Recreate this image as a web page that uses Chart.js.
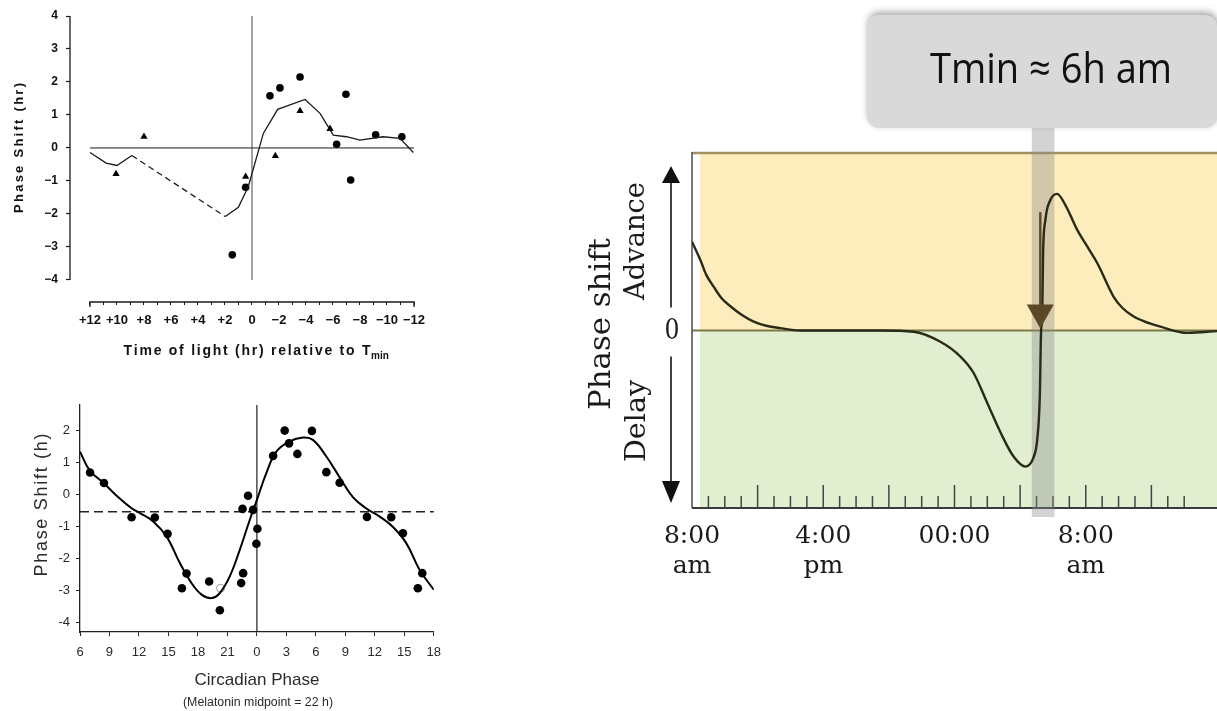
<!DOCTYPE html>
<html>
<head>
<meta charset="utf-8">
<script src="https://cdn.jsdelivr.net/npm/chart.js@4.4.1/dist/chart.umd.min.js"></script>
<style>
  html, body { margin: 0; padding: 0; background: #fff; }
  #page { position: relative; width: 1217px; height: 711px; overflow: hidden; background: #fff; }
  canvas { position: absolute; }
</style>
</head>
<body>
<div id="page">
  <canvas id="prcLight" width="440" height="365" style="left:0;top:0"></canvas>
  <canvas id="prcMelatonin" width="450" height="321" style="left:0;top:390px"></canvas>
  <canvas id="prcSchema" width="657" height="711" style="left:560px;top:0"></canvas>
</div>
<script>
// ---- light PRC (hours of light relative to Tmin, + = before Tmin) ----
const lightCurveHours = [12, 10.8, 10.0, 8.9, 1.98, 1.01, 0.27, -0.84, -1.9, -3.93, -5.04, -6.02, -7.0, -8.0, -9.7, -10.96, -11.95];
const lightCurveShift = [-0.14, -0.46, -0.53, -0.23, -2.08, -1.80, -1.17, 0.44, 1.17, 1.47, 1.05, 0.39, 0.34, 0.24, 0.34, 0.29, -0.14];
const lightTriHours = [10.07, 8.0, 0.47, -1.73, -3.56, -5.78];
const lightTriShift = [-0.79, 0.34, -0.87, -0.24, 1.12, 0.58];
const lightDotHours = [1.46, 0.47, -1.33, -2.07, -3.56, -6.27, -6.96, -7.31, -9.16, -11.1];
const lightDotShift = [-3.24, -1.19, 1.58, 1.82, 2.15, 0.11, 1.63, -0.97, 0.40, 0.34];
const lightXTicks = [-12, -11, -10, -9, -8, -7, -6, -5, -4, -3, -2, -1, 0, 1, 2, 3, 4, 5, 6, 7, 8, 9, 10, 11, 12];
const lightYTicks = [-4, -3, -2, -1, 0, 1, 2, 3, 4];

// ---- melatonin PRC (double plotted, circadian hours, 24 = phase 0) ----
const melHours = [7.02, 8.44, 11.25, 13.62, 14.91, 16.37, 16.84, 19.14, 20.23, 22.4, 22.6, 22.54, 23.1, 23.61, 24.05, 23.95, 25.65, 26.83, 27.27, 28.12, 29.6, 31.07, 32.42, 35.2, 37.67, 38.86, 40.38, 40.83];
const melShift = [0.69, 0.36, -0.71, -0.72, -1.23, -2.93, -2.47, -2.72, -3.62, -2.77, -2.46, -0.45, -0.04, -0.48, -1.07, -1.54, 1.21, 2.0, 1.6, 1.27, 1.99, 0.7, 0.37, -0.7, -0.71, -1.21, -2.93, -2.46];
const melOpenHours = [20.3];
const melOpenShift = [-2.93];
const melFitHours = [6, 7, 8.4, 9.73, 11.25, 12.1, 13.45, 14.8, 16.16, 17.35, 18.37, 19.38, 20.23, 21.24, 22.26, 23.28, 24.0, 24.96, 25.98, 27.33, 28.7, 29.7, 31.07, 32.42, 33.77, 35.1, 36.5, 37.8, 39.2, 40.55, 42];
const melFitShift = [1.34, 0.75, 0.36, -0.04, -0.43, -0.58, -0.84, -1.31, -2.14, -2.77, -3.13, -3.24, -3.08, -2.56, -1.73, -0.79, -0.17, 0.67, 1.34, 1.66, 1.78, 1.71, 1.19, 0.54, -0.08, -0.43, -0.69, -1.0, -1.52, -2.35, -2.98];
const melBaseline = -0.54;
const melXTicks = [6, 9, 12, 15, 18, 21, 24, 27, 30, 33, 36, 39, 42];
const melYTicks = [-4, -3, -2, -1, 0, 1, 2];

// ---- schematic PRC (hours after 8:00 am) ----
const schemaHours = [0, 0.51, 0.87, 1.32, 1.79, 2.34, 3.0, 3.76, 4.53, 5.38, 6.6, 11.5, 13.5, 15.14, 16.36, 17.15, 17.99, 18.8, 19.6, 20.33, 20.81, 21.04, 21.2, 21.28, 21.34, 21.40, 21.54, 21.85, 22.26, 22.76, 23.06, 23.48, 24.07, 24.7, 25.7, 26.24, 26.9, 27.6, 28.5, 30.2, 32];
const schemaShift = [1.50, 1.19, 0.94, 0.74, 0.55, 0.41, 0.27, 0.15, 0.08, 0.04, 0.0, 0, -0.02, -0.19, -0.44, -0.71, -1.22, -1.72, -2.13, -2.30, -2.15, -1.85, -1.11, 0.01, 0.18, 1.31, 1.87, 2.21, 2.31, 2.12, 1.95, 1.70, 1.43, 1.14, 0.57, 0.38, 0.24, 0.15, 0.07, -0.04, -0.01];
const schemaLabelHours = [0, 8, 16, 24];
const schemaLabels = [['8:00', 'am'], ['4:00', 'pm'], ['00:00'], ['8:00', 'am']];
const schemaTickHours = [1, 2, 3, 4, 5, 6, 7, 8, 9, 10, 11, 12, 13, 14, 15, 16, 17, 18, 19, 20, 21, 22, 23, 24, 25, 26, 27, 28, 29, 30];
const tminHour = 21.4;
const tminLabel = 'Tmin ≈ 6h am';

const pts = (xs, ys) => xs.map((x, i) => ({ x: x, y: ys[i] }));
const minus = v => (v < 0 ? '−' + (-v) : String(v));

function line(ctx, x1, y1, x2, y2) {
  ctx.beginPath();
  ctx.moveTo(x1, y1);
  ctx.lineTo(x2, y2);
  ctx.stroke();
}

// centred text, letters spread out to a given width
function spacedText(ctx, text, cx, cy, width, rotate) {
  ctx.save();
  ctx.translate(cx, cy);
  if (rotate) ctx.rotate(rotate);
  ctx.textAlign = 'left';
  const chars = [...text];
  const natural = chars.reduce((s, c) => s + ctx.measureText(c).width, 0);
  const gap = chars.length > 1 ? (width - natural) / (chars.length - 1) : 0;
  let x = -width / 2;
  chars.forEach(c => {
    ctx.fillText(c, x, 0);
    x += ctx.measureText(c).width + gap;
  });
  ctx.restore();
}

// centred text, squeezed or stretched to a given width
function fitText(ctx, text, cx, cy, width, rotate) {
  ctx.save();
  ctx.translate(cx, cy);
  if (rotate) ctx.rotate(rotate);
  ctx.textAlign = 'center';
  const w = ctx.measureText(text).width;
  ctx.scale(width / w, 1);
  ctx.fillText(text, 0, 0);
  ctx.restore();
}

const baseOptions = {
  responsive: false,
  animation: false,
  events: [],
  plugins: { legend: { display: false }, tooltip: { enabled: false } }
};

// ===================== light PRC =====================
const lightFrame = {
  id: 'lightFrame',
  beforeDatasetsDraw(chart) {
    const { ctx, chartArea, scales: { x, y } } = chart;
    ctx.save();
    ctx.strokeStyle = '#1a1a1a';
    ctx.lineWidth = 1.3;
    line(ctx, chartArea.left, y.getPixelForValue(4), chartArea.left, y.getPixelForValue(-4));
    // x axis with turned-down ends
    const xl = x.getPixelForValue(12), xr = x.getPixelForValue(-12), yb = chartArea.bottom;
    ctx.beginPath();
    ctx.moveTo(xl, yb + 5);
    ctx.lineTo(xl, yb);
    ctx.lineTo(xr, yb);
    ctx.lineTo(xr, yb + 5);
    ctx.stroke();
    ctx.lineWidth = 1;
    line(ctx, xl, y.getPixelForValue(0), xr, y.getPixelForValue(0));
    ctx.strokeStyle = '#444';
    line(ctx, x.getPixelForValue(0), y.getPixelForValue(4), x.getPixelForValue(0), y.getPixelForValue(-4));
    ctx.restore();
  },
  afterDraw(chart) {
    const { ctx } = chart;
    ctx.save();
    ctx.fillStyle = '#111';
    ctx.textBaseline = 'middle';
    ctx.font = 'bold 13px "Liberation Sans", Arial, sans-serif';
    spacedText(ctx, 'Phase Shift (hr)', 19, 148, 130, -Math.PI / 2);
    ctx.textBaseline = 'alphabetic';
    ctx.font = 'bold 14px "Liberation Sans", Arial, sans-serif';
    spacedText(ctx, 'Time of light (hr) relative to T', 123 + 124, 355, 247);
    ctx.font = 'bold 10px "Liberation Sans", Arial, sans-serif';
    ctx.textAlign = 'left';
    ctx.fillText('min', 371, 359);
    ctx.restore();
  }
};

new Chart(document.getElementById('prcLight'), {
  type: 'scatter',
  data: {
    datasets: [
      {
        data: pts(lightCurveHours, lightCurveShift),
        showLine: true,
        borderColor: '#1a1a1a',
        borderWidth: 1.3,
        pointRadius: 0,
        tension: 0,
        segment: { borderDash: c => (c.p0DataIndex === 3 ? [6, 4] : undefined) }
      },
      {
        data: pts(lightTriHours, lightTriShift),
        pointStyle: 'triangle',
        pointRadius: 4.2,
        backgroundColor: '#000',
        borderColor: '#000',
        borderWidth: 0
      },
      {
        data: pts(lightDotHours, lightDotShift),
        pointRadius: 3.8,
        backgroundColor: '#000',
        borderColor: '#000',
        borderWidth: 0
      }
    ]
  },
  options: {
    ...baseOptions,
    layout: { padding: { left: 0, top: 16, right: 26, bottom: 0 } },
    scales: {
      x: {
        reverse: true,
        min: -12,
        max: 13.48,
        afterBuildTicks: s => { s.ticks = lightXTicks.map(v => ({ value: v })); },
        afterFit: s => { s.height = 63; },
        border: { display: false },
        grid: { drawOnChartArea: false, tickLength: 3, tickColor: '#1a1a1a', tickWidth: 1 },
        ticks: {
          autoSkip: false,
          maxRotation: 0,
          padding: 8,
          color: '#111',
          font: { family: '"Liberation Sans", Arial, sans-serif', size: 13, weight: 'bold' },
          callback: v => (v % 2 !== 0 ? '' : v > 0 ? '+' + v : minus(v))
        }
      },
      y: {
        min: -4.67,
        max: 4,
        afterBuildTicks: s => { s.ticks = lightYTicks.map(v => ({ value: v })); },
        afterFit: s => { s.width = 70; },
        border: { display: false },
        grid: { drawOnChartArea: false, tickLength: 4, tickColor: '#1a1a1a', tickWidth: 1.2 },
        ticks: {
          padding: 8,
          color: '#111',
          font: { family: '"Liberation Sans", Arial, sans-serif', size: 12, weight: 'bold' },
          callback: v => minus(v)
        }
      }
    }
  },
  plugins: [lightFrame]
});

// ===================== melatonin PRC =====================
const melFrame = {
  id: 'melFrame',
  beforeDatasetsDraw(chart) {
    const { ctx, chartArea, scales: { x, y } } = chart;
    ctx.save();
    ctx.strokeStyle = '#222';
    ctx.lineWidth = 1.2;
    const x0 = x.getPixelForValue(24);
    line(ctx, x0, chartArea.top, x0, chartArea.bottom);
    ctx.setLineDash([9, 5]);
    ctx.lineWidth = 1.4;
    const yb = y.getPixelForValue(melBaseline);
    line(ctx, chartArea.left, yb, chartArea.right, yb);
    ctx.restore();
  },
  afterDraw(chart) {
    const { ctx } = chart;
    ctx.save();
    ctx.fillStyle = '#2a2a2a';
    ctx.textBaseline = 'middle';
    ctx.font = '18px "Liberation Sans", Arial, sans-serif';
    spacedText(ctx, 'Phase Shift (h)', 42, 115, 143, -Math.PI / 2);
    ctx.font = '17px "Liberation Sans", Arial, sans-serif';
    fitText(ctx, 'Circadian Phase', 257, 290, 125);
    ctx.font = '12px "Liberation Sans", Arial, sans-serif';
    fitText(ctx, '(Melatonin midpoint = 22 h)', 258, 313, 150);
    ctx.restore();
  }
};

new Chart(document.getElementById('prcMelatonin'), {
  type: 'scatter',
  data: {
    datasets: [
      {
        data: pts(melFitHours, melFitShift),
        showLine: true,
        borderColor: '#000',
        borderWidth: 2,
        pointRadius: 0,
        tension: 0.4
      },
      {
        data: pts(melHours, melShift),
        pointRadius: 4.3,
        backgroundColor: '#000',
        borderColor: '#000',
        borderWidth: 0
      },
      {
        data: pts(melOpenHours, melOpenShift),
        pointRadius: 4,
        backgroundColor: '#fff',
        borderColor: '#999',
        borderWidth: 1
      }
    ]
  },
  options: {
    ...baseOptions,
    layout: { padding: { left: 0, top: 15, right: 16, bottom: 0 } },
    scales: {
      x: {
        min: 6,
        max: 42,
        afterBuildTicks: s => { s.ticks = melXTicks.map(v => ({ value: v })); },
        afterFit: s => { s.height = 79; },
        border: { display: true, color: '#222', width: 1.3 },
        grid: { drawOnChartArea: false, tickLength: 4, tickColor: '#222' },
        ticks: {
          autoSkip: false,
          maxRotation: 0,
          padding: 9,
          color: '#2a2a2a',
          font: { family: '"Liberation Sans", Arial, sans-serif', size: 13 },
          callback: v => String(v % 24)
        }
      },
      y: {
        min: -4.3,
        max: 2.8,
        afterBuildTicks: s => { s.ticks = melYTicks.map(v => ({ value: v })); },
        afterFit: s => { s.width = 80; },
        border: { display: true, color: '#222', width: 1.3 },
        grid: { drawOnChartArea: false, tickLength: 4, tickColor: '#222' },
        ticks: {
          padding: 6,
          color: '#2a2a2a',
          font: { family: '"Liberation Sans", Arial, sans-serif', size: 13 }
        }
      }
    }
  },
  plugins: [melFrame]
});

// ===================== schematic PRC =====================
const serif = '"DejaVu Serif", "Liberation Serif", serif';

const schemaFrame = {
  id: 'schemaFrame',
  beforeDatasetsDraw(chart) {
    const { ctx, chartArea: a, scales: { x, y } } = chart;
    const y0 = y.getPixelForValue(0);
    ctx.save();
    // advance / delay regions
    ctx.fillStyle = '#fdecbc';
    ctx.fillRect(a.left + 8, a.top, a.right - a.left - 8, y0 - a.top);
    ctx.fillStyle = '#e1eed0';
    ctx.fillRect(a.left + 8, y0, a.right - a.left - 8, a.bottom - y0);
    ctx.lineWidth = 2.5;
    ctx.strokeStyle = '#a39260';
    line(ctx, a.left, a.top, a.right, a.top);
    ctx.lineWidth = 1.8;
    ctx.strokeStyle = '#7c7a46';
    line(ctx, a.left, y0, a.right, y0);
    // hour ticks standing on the axis
    ctx.strokeStyle = '#444';
    ctx.lineWidth = 1.5;
    schemaTickHours.forEach(h => {
      const px = x.getPixelForValue(h);
      line(ctx, px, a.bottom, px, a.bottom - (h % 4 === 0 ? 23 : 12));
    });
    ctx.lineWidth = 1.6;
    ctx.strokeStyle = '#555';
    line(ctx, a.left, a.top - 1, a.left, a.bottom);
    ctx.lineWidth = 2.2;
    ctx.strokeStyle = '#3a3a3a';
    line(ctx, a.left, a.bottom, a.right, a.bottom);
    // Tmin band
    const b1 = x.getPixelForValue(tminHour - 0.69), b2 = x.getPixelForValue(tminHour + 0.69);
    ctx.fillStyle = 'rgba(140, 140, 140, 0.38)';
    ctx.fillRect(b1, 128, b2 - b1, a.bottom + 9 - 128);
    ctx.restore();
  },
  afterDatasetsDraw(chart) {
    const { ctx, chartArea: a, scales: { x, y } } = chart;
    const y0 = y.getPixelForValue(0);
    ctx.save();

    // arrow down onto the zero line at Tmin
    const ax = x.getPixelForValue(tminHour - 0.17);
    ctx.strokeStyle = '#5a4826';
    ctx.fillStyle = '#5a4826';
    ctx.lineWidth = 2.4;
    line(ctx, ax, y.getPixelForValue(2.0), ax, y0 - 24);
    ctx.beginPath();
    ctx.moveTo(ax - 13.5, y0 - 26);
    ctx.lineTo(ax + 13.5, y0 - 26);
    ctx.lineTo(ax, y0 - 2);
    ctx.closePath();
    ctx.fill();

    // callout box
    const bx = 307, by = 15, bw = 350, bh = 113, r = 12;
    ctx.save();
    ctx.shadowColor = 'rgba(0, 0, 0, 0.35)';
    ctx.shadowBlur = 7;
    ctx.shadowOffsetX = 1;
    ctx.shadowOffsetY = -3;
    ctx.fillStyle = '#d9d9d9';
    ctx.beginPath();
    ctx.moveTo(bx + r, by);
    ctx.arcTo(bx + bw, by, bx + bw, by + bh, r);
    ctx.arcTo(bx + bw, by + bh, bx, by + bh, r);
    ctx.arcTo(bx, by + bh, bx, by, r);
    ctx.arcTo(bx, by, bx + bw, by, r);
    ctx.closePath();
    ctx.fill();
    ctx.restore();
    ctx.fillStyle = '#111';
    ctx.textBaseline = 'alphabetic';
    ctx.font = '42px "Open Sans", "Noto Sans", sans-serif';
    fitText(ctx, tminLabel, 491, 83, 242);

    // phase-shift axis arrows and labels
    const vx = a.left - 21;
    ctx.strokeStyle = '#111';
    ctx.fillStyle = '#111';
    ctx.lineWidth = 1.6;
    line(ctx, vx, a.top + 28, vx, y0 - 23);
    line(ctx, vx, y0 + 26, vx, a.bottom - 24);
    ctx.beginPath();
    ctx.moveTo(vx - 9, a.top + 30);
    ctx.lineTo(vx + 9, a.top + 30);
    ctx.lineTo(vx, a.top + 13);
    ctx.closePath();
    ctx.fill();
    ctx.beginPath();
    ctx.moveTo(vx - 9, a.bottom - 27);
    ctx.lineTo(vx + 9, a.bottom - 27);
    ctx.lineTo(vx, a.bottom - 5);
    ctx.closePath();
    ctx.fill();

    ctx.fillStyle = '#1a1a1a';
    ctx.textBaseline = 'middle';
    ctx.font = '27px ' + serif;
    fitText(ctx, '0', vx + 1, y0 + 1, 15);
    fitText(ctx, 'Advance', 77, 241, 118, -Math.PI / 2);
    fitText(ctx, 'Delay', 78, 421, 82, -Math.PI / 2);
    ctx.font = '29px ' + serif;
    fitText(ctx, 'Phase shift', 42, 324, 172, -Math.PI / 2);
    ctx.restore();
  }
};

new Chart(document.getElementById('prcSchema'), {
  type: 'scatter',
  data: {
    datasets: [
      {
        data: pts(schemaHours, schemaShift),
        showLine: true,
        borderColor: '#2a2a18',
        borderWidth: 2.4,
        pointRadius: 0,
        cubicInterpolationMode: 'monotone'
      }
    ]
  },
  options: {
    ...baseOptions,
    layout: { padding: { left: 132, top: 153, right: 0, bottom: 0 } },
    scales: {
      x: {
        min: 0,
        max: 32,
        afterBuildTicks: s => { s.ticks = schemaLabelHours.map(v => ({ value: v })); },
        afterFit: s => { s.height = 203; },
        border: { display: false },
        grid: { display: false, drawTicks: false },
        ticks: {
          autoSkip: false,
          maxRotation: 0,
          padding: 13,
          color: '#1a1a1a',
          font: { family: serif, size: 25, lineHeight: 1.2 },
          callback: (v, i) => schemaLabels[i]
        }
      },
      y: {
        display: false,
        min: -3,
        max: 3
      }
    }
  },
  plugins: [schemaFrame]
});
</script>
</body>
</html>
